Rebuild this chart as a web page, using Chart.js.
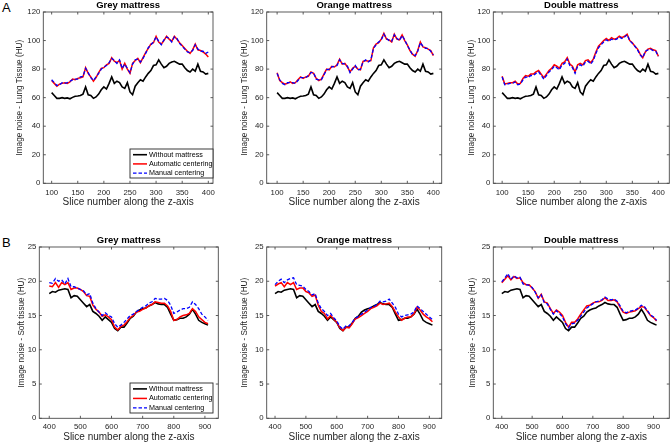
<!DOCTYPE html>
<html><head><meta charset="utf-8">
<script src="https://cdn.jsdelivr.net/npm/chart.js@4.4.0/dist/chart.umd.min.js"></script>
<style>
html,body{margin:0;padding:0;background:#fff;}
#wrap{position:relative;width:671px;height:444px;overflow:hidden;background:#fff;}
canvas{position:absolute;}
.lbl{position:absolute;font-family:"Liberation Sans",Arial,sans-serif;font-size:13px;line-height:13px;color:#000;}
</style></head><body>
<div id="wrap">
<div class="lbl" style="left:2px;top:1px">A</div>
<div class="lbl" style="left:2px;top:236px">B</div>
</div>
<script>
// ---------- DATA ----------
const sliceTop = [100,105,110,115,120,125,130,135,140,145,150,155,160,165,170,175,180,185,190,195,200,205,210,215,220,225,230,235,240,245,250,255,260,265,270,275,280,285,290,295,300,305,310,315,320,325,330,335,340,345,350,355,360,365,370,375,380,385,390,395,400];
const sliceBottom = [400,410,420,430,440,450,460,470,480,490,500,510,520,530,540,550,560,570,580,590,600,610,620,630,640,650,660,670,680,690,700,710,720,730,740,750,760,770,780,790,800,810,820,830,840,850,860,870,880,890,900,910];

const xTicksTop = [100,150,200,250,300,350,400];
const xTicksBottom = [400,500,600,700,800,900];
const yTicksTop = [0,20,40,60,80,100,120];
const yTicksBottom = [0,5,10,15,20,25];

const seriesNames = ['Without mattress','Automatic centering','Manual centering'];
const panelTitles = ['Grey mattress','Orange mattress','Double mattress'];
const yTitleTop = 'Image noise - Lung Tissue (HU)';
const yTitleBottom = 'Image noise - Soft tissue (HU)';
const xTitle = 'Slice number along the z-axis';

// Lung tissue (top row)
const lungWithout = [63.5,61.5,59.5,59.5,60,59.5,59.8,59.2,60.2,61,61.2,61.5,62.5,67.5,62,61.5,59.5,60.5,62.5,65.5,67.5,66,70,74.5,70,71.5,70.5,67.5,66.5,70.5,64,62,68,70.5,72.5,71.5,74.5,77,79,82.5,83,86.5,83.5,81,82,84,85,85.5,84.5,83.5,83.5,81,79,78,80,78.5,83.5,78.5,78,76.5,77];
const lungGreyAuto = [72,70,68,69.5,70,70.5,70,71,73,72.5,73.5,74,74.5,81,77,74.5,71.5,74,77.5,80.5,81,83,84,88,85.5,84.5,86,80,84,80,77,84,86,87.5,84.5,88,91.5,94.5,97.5,98.5,103,99,97.5,100,103,101,99.5,103,101,98.5,96.5,94.5,92.5,91,93.5,97.5,93.5,93,92,90.5,88.5];
const lungGreyManual = [72.5,70.5,68.5,69,70.5,70,70.5,71.5,72.5,73,73,74.5,75,80.5,77.5,74,72,74.5,77,80,81.5,82.5,84.5,87.5,86,84,86.5,80.5,83.5,80.5,77.5,83.5,86.5,87,85,87.5,91,95,97,99,102.5,99.5,97,100.5,102.5,101.5,99,102.5,101.5,98,96,94,92,91.5,93,97,94,92.5,92.5,91,92];
const lungOrangeAuto = [77.5,72,70.5,69.5,70,71,70,70.5,72.5,74.5,73.5,74.5,75,78,77,73.5,72,73,76.5,80,79.5,82,81.5,83,87,83.5,84,81.5,78,80.5,82,80,79.5,85.5,86,85.5,86,95,97.5,98.5,101,105,101,100.5,99,104.5,101,100.5,104,100,97,93,90.5,89,93,99,95.5,95,94,93,89.5];
const lungOrangeManual = [77,72.5,70,69,70.5,70.5,70.5,70,72,74,74,74,75.5,77.5,77.5,73,72.5,72.5,76,79.5,80,81.5,82,82.5,86.5,84,83.5,82,77.5,80,82.5,79.5,80,85,86.5,85,86.5,94.5,97,99,100.5,104.5,101.5,100,99.5,104,101.5,100,103.5,100.5,96.5,93.5,90,89.5,92.5,98.5,96,94.5,94.5,92.5,90];
const lungDoubleAuto = [75,69.5,70,70.5,70.5,71.5,69.5,70,73.5,75.5,75,76.5,76.5,78,79,76.5,74,76.5,79,80.5,83,82,80.5,84,85,88,83.5,82,78,83,84,83,86,86.5,84.5,87,92,96,98,100,101.5,100,102,101,101.5,103,102,103,104.5,100,98.5,96,94,90.5,88,92,94,94.5,93.5,93,89];
const lungDoubleManual = [74.5,69,69.5,70,70,71,69,69.5,72.5,74.5,74,75.5,75.5,77,78,75.5,73,75.5,78,79.5,82,81,79.5,83,84,87,82.5,81,77,82,83,82,85,85.5,83.5,86,91,95,97,99,100.5,99.5,101,100.5,101,102.5,101.5,102.5,104,100,98,96,93.5,90,88,92.5,93.5,94,93,92.5,89];

// Soft tissue (bottom row)
const softWithout = [18.2,18.5,18.4,18.7,18.8,18.9,18.8,17.6,17.9,17.8,17.3,16.8,16.3,16.6,15.6,15.3,14.9,14.3,14.8,14.4,14,13.1,12.8,13.3,13.3,13.9,14.6,14.9,15.5,15.8,16,16.1,16.4,16.6,16.9,16.7,16.6,16.6,16.2,15.2,14.3,14.4,14.6,14.6,14.8,15.2,15.9,15.2,14.3,14,13.8,13.6];
const softGreyAuto = [19.3,19.2,19.8,19.1,19.8,19.5,19.8,18.8,19,19,18.8,18.5,17.9,17.8,16.5,15.9,15.5,14.9,15.1,14.8,14.4,13.3,12.9,13.4,13.6,14.1,14.7,15,15.5,15.6,15.9,16.1,16.4,16.6,17,16.9,16.8,16.8,16.4,15.6,14.3,14.4,14.8,15,15.1,15.3,16,15.6,14.8,14.4,14,13.8];
const softGreyManual = [19.8,19.7,20.4,20,20.2,19.6,20.4,19.2,19.2,19,18.8,18.6,18,18.2,16.8,16,15.5,15,15.4,15,14.8,13.8,13.3,13.6,14,14.5,15,15.2,15.6,15.9,16.2,16.4,16.8,17,17.5,17.4,17.4,17.5,17.2,16.5,15.3,15.5,15.8,16,16,16.2,17,16.6,16,15.2,14.8,14.3];
const softOrangeAuto = [19.3,19.6,19.8,19.2,19.8,19.5,19.8,18.8,19,19,18.5,18.3,17.8,18,16.5,15.6,15.3,14.5,15,14.5,14,13.2,12.8,13.3,13.2,13.8,14.5,14.7,15,15.3,15.6,16,16.2,16.4,16.8,16.6,16.7,16.8,16.3,15.5,14.8,14.3,14.6,14.8,14.8,15.2,16.2,15.8,15.2,14.8,14.5,14.1];
const softOrangeManual = [19.5,20,20.3,19.8,20.2,20.4,20.5,19.5,19.4,19.3,18.8,18.5,18,18.2,16.8,16,15.6,15,15.3,14.7,14.2,13.4,13,13.5,13.5,14,14.6,14.9,15.2,15.5,15.8,16.2,16.3,16.6,17.1,17,17.1,17.4,16.8,16.2,15.2,14.8,15,15.1,15.2,15.5,16.4,16,15.6,15.2,14.8,14.4];
const softDoubleAuto = [19.8,20.3,20.8,20.2,20.7,20.4,20.5,19.8,19.5,19.5,19,18.5,17.5,18.1,17,16.8,16,15.3,15.8,15.5,15,14,13.3,14,14,14.5,15.2,15.8,16.4,16.5,16.8,17,17,17.2,17.6,17.2,17.2,17.3,17,16.2,15.5,15.3,15.5,15.6,15.7,16,16.3,16.2,15.6,15,14.7,14.2];
const softDoubleManual = [19.9,20.5,21.1,20.3,20.8,20.5,20.6,19.6,19.5,19.4,19.1,18.4,17.6,18,16.9,16.7,15.9,15.2,15.7,15.3,14.8,13.8,13.2,13.8,13.9,14.3,14.9,15.5,16.1,16.4,16.7,17,17.1,17.3,17.7,17.4,17.3,17.4,17.1,16.4,15.6,15.4,15.6,15.7,15.8,16.1,16.5,16.3,15.7,15.1,14.8,14.3];

// ---------- LAYOUT ----------
const FONT = '"Liberation Sans", Arial, Helvetica, sans-serif';
const AXC = '#262626';
const seriesStyle = [
  {color:'#000000', width:1.6, dash:[], order:2},
  {color:'#ff0000', width:1.5, dash:[], order:1},
  {color:'#0000ff', width:1.3, dash:[3.5,2], order:0}
];

const panels = [
  {cv:[0,0,222,212],   area:[43.3,12,213,183.3],   xr:[84,409],  ytx:20,  xty:202, xtk:192.7, tty:5,   row:0, col:0, legend:[130,149,83,29]},
  {cv:[222,0,224,212], area:[266.7,12,441.7,183.3], xr:[80,416],  ytx:245, xty:202, xtk:192.7, tty:5,   row:0, col:1},
  {cv:[446,0,225,212], area:[493.3,12,669.3,183.3], xr:[83,421],  ytx:471.7,xty:202, xtk:192.7, tty:5,  row:0, col:2},
  {cv:[0,222,222,222], area:[39.3,247,218.3,418.3], xr:[368,943], ytx:21.7,xty:437, xtk:426.7, tty:240, row:1, col:0, legend:[130,383,83,30]},
  {cv:[222,222,224,222],area:[266.7,247,441.7,418.3],xr:[373,940],ytx:245, xty:437, xtk:426.7, tty:240, row:1, col:1},
  {cv:[446,222,225,222],area:[493.3,247,669.3,418.3],xr:[372,952],ytx:473, xty:437, xtk:426.7, tty:240, row:1, col:2}
];

const rowData = [
  {x:sliceTop, xt:xTicksTop, yt:yTicksTop, ymax:120, ytitle:yTitleTop,
   series:[[lungWithout,lungGreyAuto,lungGreyManual],[lungWithout,lungOrangeAuto,lungOrangeManual],[lungWithout,lungDoubleAuto,lungDoubleManual]]},
  {x:sliceBottom, xt:xTicksBottom, yt:yTicksBottom, ymax:25, ytitle:yTitleBottom,
   series:[[softWithout,softGreyAuto,softGreyManual],[softWithout,softOrangeAuto,softOrangeManual],[softWithout,softDoubleAuto,softDoubleManual]]}
];

const framePlugin = {
  id:'frame',
  afterDatasetsDraw(chart){
    const {ctx, chartArea:a, scales} = chart;
    ctx.save();
    ctx.strokeStyle = '#4a4a4a'; ctx.lineWidth = 0.9;
    ctx.strokeRect(a.left, a.top, a.right-a.left, a.bottom-a.top);
    const tl = 2.5;
    ctx.beginPath();
    scales.x.ticks.forEach(t=>{
      const px = scales.x.getPixelForValue(t.value);
      ctx.moveTo(px, a.bottom); ctx.lineTo(px, a.bottom-tl);
      ctx.moveTo(px, a.top); ctx.lineTo(px, a.top+tl);
    });
    scales.y.ticks.forEach(t=>{
      const py = scales.y.getPixelForValue(t.value);
      ctx.moveTo(a.left, py); ctx.lineTo(a.left+tl, py);
      ctx.moveTo(a.right, py); ctx.lineTo(a.right-tl, py);
    });
    ctx.stroke();
    ctx.restore();
  },
  afterDraw(chart){
    const o = chart.options.plugins.frame;
    const {ctx, chartArea:a} = chart;
    ctx.save();
    ctx.fillStyle = '#000';
    ctx.font = 'bold 9.5px ' + FONT;
    ctx.textAlign = 'center'; ctx.textBaseline = 'middle';
    ctx.fillText(o.title, (a.left+a.right)/2, o.titleY);
    if (o.legend){
      const [lx,ly,lw,lh] = o.legend;
      ctx.fillStyle = '#fff';
      ctx.fillRect(lx,ly,lw,lh);
      ctx.strokeStyle = AXC; ctx.lineWidth = 0.9;
      ctx.strokeRect(lx,ly,lw,lh);
      ctx.font = '7.2px ' + FONT;
      ctx.textAlign = 'left';
      const rowH = lh/3.15;
      chart.data.datasets.forEach((ds,i)=>{
        const y = ly + rowH*(i+0.62);
        ctx.strokeStyle = ds.borderColor; ctx.lineWidth = ds.borderWidth;
        ctx.setLineDash(ds.borderDash||[]);
        ctx.beginPath(); ctx.moveTo(lx+3, y); ctx.lineTo(lx+17, y); ctx.stroke();
        ctx.setLineDash([]);
        ctx.fillStyle = '#000';
        ctx.fillText(ds.label, lx+19, y);
      });
    }
    ctx.restore();
  }
};

const wrap = document.getElementById('wrap');
panels.forEach((p)=>{
  const rd = rowData[p.row];
  const [cx,cy,cw,ch] = p.cv;
  const [al,at,ar,ab] = p.area;
  const cvs = document.createElement('canvas');
  cvs.width = cw; cvs.height = ch;
  cvs.style.left = cx+'px'; cvs.style.top = cy+'px';
  cvs.style.width = cw+'px'; cvs.style.height = ch+'px';
  wrap.appendChild(cvs);
  const tickSize = 7.8, xTitleSize = 10, yTitleSize = 8.2;
  const datasets = rd.series[p.col].map((vals,i)=>({
    label: seriesNames[i],
    data: rd.x.map((xv,k)=>({x:xv, y:vals[k]})),
    borderColor: seriesStyle[i].color,
    backgroundColor: seriesStyle[i].color,
    borderWidth: seriesStyle[i].width,
    borderDash: seriesStyle[i].dash,
    order: seriesStyle[i].order,
    pointRadius: 0, tension: 0, fill:false
  }));
  new Chart(cvs, {
    type:'line',
    data:{datasets},
    plugins:[framePlugin],
    options:{
      responsive:false, animation:false, devicePixelRatio:1,
      layout:{padding:{left:0, top:at-cy, right:cx+cw-ar, bottom:0}},
      plugins:{legend:{display:false}, tooltip:{enabled:false},
        frame:{title:panelTitles[p.col], titleY:p.tty-cy, legend:p.legend?[p.legend[0]-cx,p.legend[1]-cy,p.legend[2],p.legend[3]]:null}},
      scales:{
        x:{type:'linear', min:p.xr[0], max:p.xr[1],
          afterBuildTicks:s=>{s.ticks = rd.xt.map(v=>({value:v}));},
          afterFit:s=>{s.height = cy+ch-ab;},
          grid:{display:false, drawTicks:false}, border:{display:false},
          ticks:{font:{family:FONT, size:tickSize}, color:AXC, padding:p.xtk-ab-tickSize*0.6, maxRotation:0, autoSkip:false},
          title:{display:true, text:xTitle, color:AXC, font:{family:FONT, size:xTitleSize},
            padding:{top:0, bottom:cy+ch-p.xty-xTitleSize*0.6}}
        },
        y:{type:'linear', min:0, max:rd.ymax,
          afterBuildTicks:s=>{s.ticks = rd.yt.map(v=>({value:v}));},
          afterFit:s=>{s.width = al-cx;},
          grid:{display:false, drawTicks:false}, border:{display:false},
          ticks:{font:{family:FONT, size:tickSize}, color:AXC, padding:3, autoSkip:false},
          title:{display:true, text:rd.ytitle, color:AXC, font:{family:FONT, size:yTitleSize},
            padding:{top:p.ytx-cx-yTitleSize*0.6, bottom:0}}
        }
      }
    }
  });
});
</script>
</body></html>
